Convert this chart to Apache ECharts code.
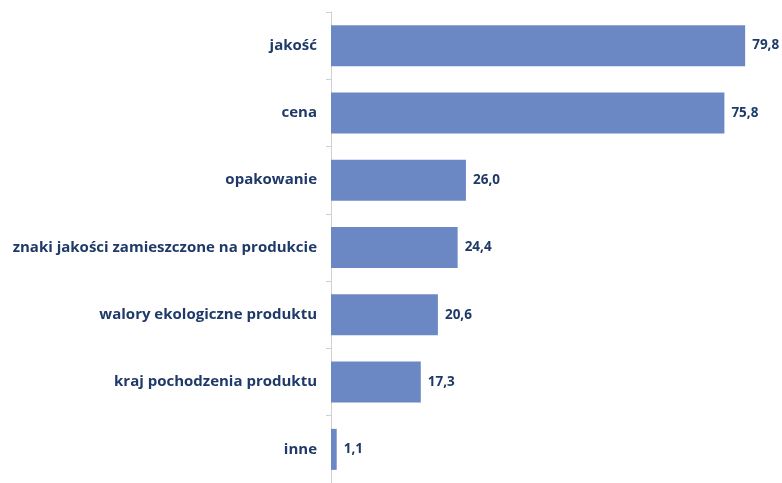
<!DOCTYPE html>
<html><head><meta charset="utf-8">
<script src="https://cdn.jsdelivr.net/npm/echarts@6/dist/echarts.min.js"></script>
<style>html,body{margin:0;padding:0;background:#fff}#c{width:782px;height:483px}</style>
</head><body><div id="c"></div>
<script>
const categories = ["jakość","cena","opakowanie","znaki jakości zamieszczone na produkcie","walory ekologiczne produktu","kraj pochodzenia produktu","inne"];
const values = [79.8,75.8,26.0,24.4,20.6,17.3,1.1];
const chart = echarts.init(document.getElementById('c'));
chart.setOption({
  animation:false,
  grid:{left:331, top:12, width:415.2, height:476, containLabel:false},
  xAxis:{type:'value', min:0, max:80, show:false},
  yAxis:{type:'category', data:categories, inverse:true,
    axisLine:{show:true, lineStyle:{color:'#d0d0d0', width:1}},
    axisTick:{show:true, length:5, lineStyle:{color:'#d0d0d0'}},
    axisLabel:{color:'#1f3a68', fontFamily:'Open Sans', fontWeight:'bold', fontSize:15, margin:14}
  },
  series:[{type:'bar', data:values, barWidth:41,
    itemStyle:{color:'#6b88c5'},
    label:{show:true, position:'right', distance:7, color:'#1f3a68', fontFamily:'Open Sans', fontWeight:'bold', fontSize:13.5,
      formatter:p=>p.value.toFixed(1).replace('.',',')}
  }]
});
</script></body></html>
